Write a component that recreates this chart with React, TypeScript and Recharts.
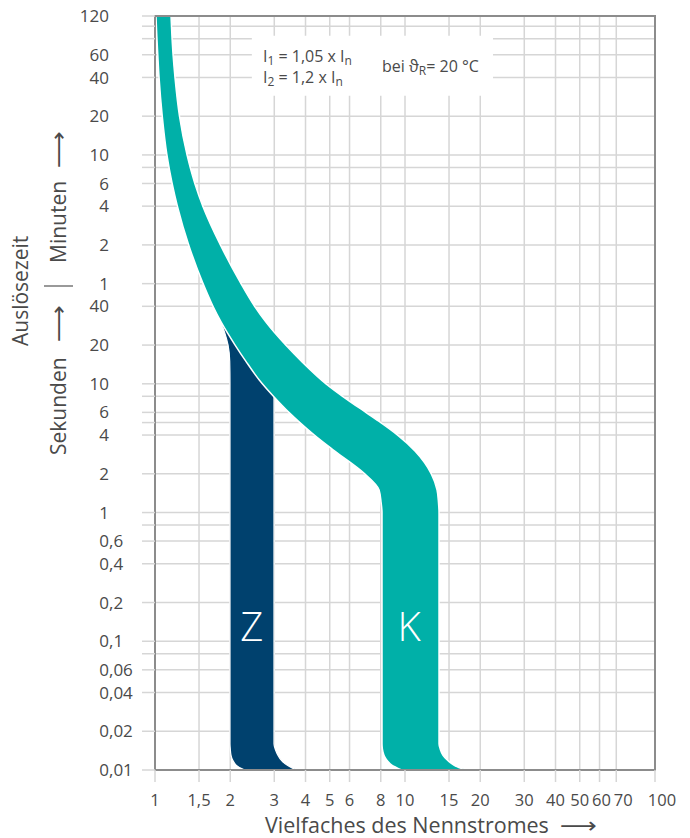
import React from 'react';
import {
  ComposedChart,
  Area,
  XAxis,
  YAxis,
  CartesianGrid,
  ReferenceArea,
  ReferenceDot,
} from 'recharts';

// ---------- axes ----------
const xTicks = [1, 1.5, 2, 3, 4, 5, 6, 8, 10, 15, 20, 30, 40, 50, 60, 70, 100];

// y values in seconds (minutes part converted: 1 min = 60 s)
const yTicks = [
  0.01, 0.02, 0.04, 0.06, 0.08, 0.1, 0.2, 0.4, 0.6, 0.8, 1, 2, 4, 5, 6, 8, 10, 20, 40,
  60, 120, 240, 360, 480, 600, 1200, 2400, 3600, 4800, 6000, 7200,
];
const yTickLabels = [
  '0,01', '0,02', '0,04', '0,06', '', '0,1', '0,2', '0,4', '0,6', '', '1', '2', '4', '', '6', '', '10', '20', '40',
  '1', '2', '4', '6', '', '10', '20', '40', '60', '', '', '120',
];

// ---------- K band (time in s, lower / upper multiple of In) ----------
const kTimes = [
  7200, 5000, 3600, 2400, 1200, 600, 360, 240, 120, 60,
  40, 30, 20, 15, 10, 8, 6, 5, 4, 3,
  2, 1.5, 1.2, 1, 0.1, 0.02,
  0.016, 0.0145, 0.013, 0.012, 0.0113, 0.0107, 0.0103, 0.01,
];
const kLow = [
  1.009, 1.017, 1.026, 1.038, 1.069, 1.116, 1.171, 1.229, 1.364, 1.557,
  1.706, 1.842, 2.091, 2.307, 2.687, 2.976, 3.432, 3.798, 4.338, 5.239,
  6.9, 7.877, 8.024, 8.091, 8.091, 8.091,
  8.091, 8.121, 8.241, 8.433, 8.67, 8.995, 9.376, 9.727,
];
const kHigh = [
  1.159, 1.169, 1.181, 1.202, 1.253, 1.343, 1.443, 1.553, 1.826, 2.208,
  2.503, 2.783, 3.333, 3.851, 4.831, 5.628, 6.97, 8.001, 9.342, 10.985,
  12.74, 13.43, 13.61, 13.68, 13.68, 13.68,
  13.68, 13.84, 14.19, 14.72, 15.28, 15.99, 16.75, 17.7,
];

// ---------- Z band ----------
const zTimes = [
  27.7, 25, 20, 15, 10, 8, 6, 2, 1, 0.1,
  0.02, 0.016, 0.0145, 0.013, 0.012, 0.0113, 0.0107, 0.0103, 0.01,
];
const zLow = [
  1.865, 1.9, 1.96, 1.99, 1.995, 1.995, 1.995, 1.995, 1.995, 1.995,
  1.995, 1.995, 2.001, 2.014, 2.042, 2.08, 2.138, 2.208, 2.291,
];
const zHigh = [
  1.89, 2.0, 2.3, 2.6, 2.95, 2.992, 2.992, 2.992, 2.992, 2.992,
  2.992, 2.992, 3.028, 3.105, 3.192, 3.296, 3.436, 3.565, 3.698,
];

const kData = kTimes.map((t, i) => ({ t, range: [kLow[i], kHigh[i]] }));
const zData = zTimes.map((t, i) => ({ t, range: [zLow[i], zHigh[i]] }));

const FONT = '"Open Sans", "Noto Sans", "DejaVu Sans", sans-serif';
const TEXT = '#4a4a4a';
const GRID = '#d6d6d6';
const BORDER = '#8c8c8c';
const TEAL = '#00b0a8';
const NAVY = '#00416e';

// small horizontal nudges of crowded x labels (as in the reference)
const xLabelNudge: Record<number, number> = { 60: 2, 70: 7, 100: 7 };

const XTick = (props: any) => {
  const { x, y, payload } = props;
  const v = payload.value as number;
  const dx = xLabelNudge[v] || 0;
  return (
    <text x={x + dx} y={y} dy="0.71em" textAnchor="middle" fontSize={16.5} fill={TEXT} fontFamily={FONT}>
      {String(v).replace('.', ',')}
    </text>
  );
};

const YTick = (props: any) => {
  const { x, y, payload } = props;
  const idx = yTicks.indexOf(payload.value);
  const label = idx >= 0 ? yTickLabels[idx] : '';
  if (!label) return null;
  const parts = label.split(',');
  const ax = x - 31;
  return (
    <g>
      <text x={ax} y={y} dy="0.36em" textAnchor="end" fontSize={17} fill={TEXT} fontFamily={FONT}>
        {parts[0]}
      </text>
      {parts.length > 1 && (
        <text x={ax} y={y} dy="0.36em" textAnchor="start" fontSize={17} fill={TEXT} fontFamily={FONT}>
          {',' + parts[1]}
        </text>
      )}
    </g>
  );
};

export default function App() {
  return (
    <div style={{ position: 'absolute', left: 0, top: 0, width: 690, height: 838, background: '#fff' }}>
      <ComposedChart
        width={690}
        height={838}
        layout="vertical"
        margin={{ top: 16, right: 35, bottom: 0, left: 0 }}
      >
        <CartesianGrid stroke={GRID} strokeWidth={1.5} />
        <XAxis
          type="number"
          scale="log"
          domain={[1, 100]}
          allowDataOverflow
          ticks={xTicks}
          interval={0}
          height={68}
          tickSize={12}
          tickMargin={12}
          axisLine={false}
          tickLine={{ stroke: GRID, strokeWidth: 1.5 }}
          tick={<XTick />}
        />
        <YAxis
          type="number"
          dataKey="t"
          scale="log"
          domain={[0.01, 7200]}
          allowDataOverflow
          reversed
          ticks={yTicks}
          interval={0}
          width={155}
          tickSize={13}
          tickMargin={2}
          axisLine={false}
          tickLine={{ stroke: GRID, strokeWidth: 1.5 }}
          tick={<YTick />}
        />
        <ReferenceArea x1={2.44} x2={22.5} y1={1726} y2={5050} fill="#ffffff" fillOpacity={1} stroke="none" />
        <Area
          data={zData}
          dataKey="range"
          type="monotoneY"
          fill={NAVY}
          fillOpacity={1}
          stroke="#ffffff"
          strokeWidth={1.2}
          dot={false}
          activeDot={false}
          isAnimationActive={false}
        />
        <Area
          data={kData}
          dataKey="range"
          type="monotoneY"
          fill={TEAL}
          fillOpacity={1}
          stroke="#ffffff"
          strokeWidth={1.5}
          dot={false}
          activeDot={false}
          isAnimationActive={false}
        />
        <ReferenceDot
          x={2.44}
          y={0.129}
          r={1}
          fill="none"
          stroke="none"
          label={{ value: 'Z', position: 'center', fill: '#ffffff', fontSize: 40, fontFamily: FONT, fontWeight: 300 }}
        />
        <ReferenceDot
          x={10.38}
          y={0.129}
          r={1}
          fill="none"
          stroke="none"
          label={{ value: 'K', position: 'center', fill: '#ffffff', fontSize: 40, fontFamily: FONT, fontWeight: 300 }}
        />
        <ReferenceArea x1={1} x2={100} y1={0.01} y2={7200} fill="none" stroke={BORDER} strokeWidth={2} />
      </ComposedChart>
      <svg
        width={690}
        height={838}
        style={{ position: 'absolute', left: 0, top: 0, pointerEvents: 'none' }}
        fontFamily={FONT}
        fill={TEXT}
      >
        <text transform="translate(28,346) rotate(-90)" fontSize={21}>Auslösezeit</text>

        <text transform="translate(66,263) rotate(-90)" fontSize={21}>Minuten</text>
        <text transform="translate(66,168) rotate(-90)" fontSize={22} textLength={37} lengthAdjust="spacingAndGlyphs">⟶</text>

        <text transform="translate(66,455) rotate(-90)" fontSize={21}>Sekunden</text>
        <text transform="translate(66,342) rotate(-90)" fontSize={22} textLength={37} lengthAdjust="spacingAndGlyphs">⟶</text>

        <line x1={44} x2={73} y1={286} y2={286} stroke="#555" strokeWidth={1.2} />

        <text x={265} y={833} fontSize={21.5}>Vielfaches des Nennstromes</text>
        <text x={560} y={833} fontSize={22} textLength={37} lengthAdjust="spacingAndGlyphs">⟶</text>

        <text x={263} y={62} fontSize={16}>
          I<tspan dy={3} fontSize={12}>1</tspan>
          <tspan dy={-3}> = 1,05 x I</tspan>
          <tspan dy={3} fontSize={12}>n</tspan>
        </text>
        <text x={263} y={83} fontSize={16}>
          I<tspan dy={3} fontSize={12}>2</tspan>
          <tspan dy={-3}> = 1,2 x I</tspan>
          <tspan dy={3} fontSize={12}>n</tspan>
        </text>
        <text x={382} y={72} fontSize={16}>
          bei ϑ<tspan dy={3} fontSize={12}>R</tspan>
          <tspan dy={-3}>= 20 °C</tspan>
        </text>
      </svg>
    </div>
  );
}
